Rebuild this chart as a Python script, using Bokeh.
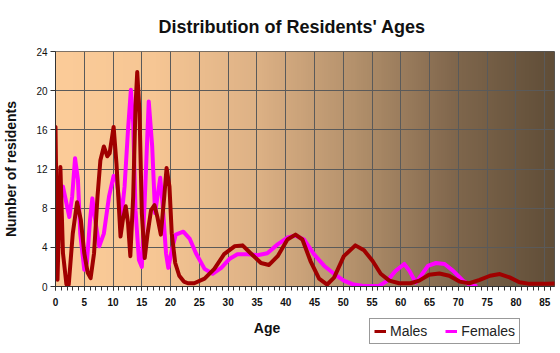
import numpy as np
from bokeh.plotting import figure
from bokeh.layouts import column
from bokeh.models import Legend, LegendItem, Label, FixedTicker, Range1d
from bokeh.embed import file_html
from bokeh.resources import INLINE

title_text = "Distribution of Residents' Ages"
x_label = "Age"
y_label = "Number of residents"
x_ticks = list(range(0, 90, 5))
y_ticks = [0, 4, 8, 12, 16, 20, 24]
series_names = ["Males", "Females"]

male_age = [0.0, 0.35, 0.85, 1.3, 1.9, 2.3, 3.0, 3.75, 4.4, 5.0, 5.6, 6.1, 6.7, 7.3, 7.8, 8.4,
            9.0, 9.4, 10.1, 10.6, 11.3, 11.7, 12.2, 12.6, 13.0, 13.5, 13.9, 14.2, 14.6, 15.0,
            15.5, 16.0, 16.6, 17.2, 17.7, 18.3, 18.9, 19.3, 19.8, 20.2, 20.8, 21.5, 22.3, 23.0,
            24.1, 25.9, 27.6, 29.3, 31.1, 32.5, 33.9, 35.7, 37.1, 38.6, 40.3, 41.7, 42.9, 44.3,
            45.8, 47.2, 48.4, 50.1, 52.1, 53.6, 55.1, 56.5, 58.0, 59.7, 61.7, 63.2, 64.9, 66.7,
            68.4, 70.2, 71.9, 73.7, 75.5, 77.2, 78.9, 80.6, 82.4, 85.3, 86.7]
male_count = [16.3, 0.7, 12.2, 3.4, 0.2, 0.2, 5.4, 8.6, 6.8, 3.4, 1.4, 0.85, 3.4, 9.2, 12.9, 14.3,
              13.3, 13.6, 16.3, 12.5, 5.1, 6.8, 8.2, 6.5, 3.1, 9.2, 18.4, 21.9, 17.7, 7.5,
              2.9, 5.4, 7.8, 8.3, 7.1, 5.3, 9.2, 12.1, 10.2, 5.4, 2.4, 1.1, 0.5, 0.33,
              0.33, 0.8, 1.8, 3.3, 4.1, 4.2, 3.4, 2.4, 2.2, 3.1, 4.8, 5.3, 4.8, 2.6,
              0.8, 0.2, 0.9, 3.1, 4.2, 3.7, 2.6, 1.3, 0.6, 0.33, 0.33, 0.6, 1.2, 1.33,
              1.1, 0.5, 0.33, 0.67, 1.1, 1.27, 0.93, 0.43, 0.27, 0.27, 0.3]

female_age = [0.3, 0.8, 1.3, 1.9, 2.4, 2.9, 3.4, 3.9, 4.3, 5.0, 5.45, 6.0, 6.4, 6.9, 7.6, 8.4,
              9.3, 10.1, 10.6, 11.5, 12.0, 12.6, 13.1, 13.5, 13.9, 14.5, 15.0, 15.6, 16.2, 16.8,
              17.3, 17.8, 18.2, 18.6, 19.2, 19.6, 20.2, 20.9, 22.2, 23.3, 24.4, 25.9, 27.3, 28.8,
              30.2, 31.6, 33.4, 35.1, 36.8, 38.6, 40.3, 41.7, 43.2, 44.9, 46.7, 48.4, 50.1, 51.8,
              53.5, 56.2, 57.7, 59.1, 60.6, 61.5, 62.6, 63.5, 64.7, 66.1, 67.6, 69.1, 70.8, 71.9,
              73.0]
female_count = [10.0, 10.3, 10.2, 8.5, 7.1, 9.2, 13.1, 10.9, 5.4, 1.7, 2.4, 6.8, 9.0, 6.8, 4.1, 5.4,
                9.2, 11.3, 10.8, 7.3, 10.2, 16.0, 20.1, 16.7, 7.8, 2.7, 2.0, 10.2, 18.9, 14.3,
                7.5, 9.5, 11.1, 8.5, 3.4, 1.9, 3.7, 5.3, 5.6, 4.9, 3.4, 1.8, 1.3, 1.9,
                2.8, 3.3, 3.3, 3.2, 3.4, 4.3, 5.0, 5.2, 4.8, 3.3, 2.1, 1.3, 0.6, 0.2,
                0.05, 0.05, 0.6, 1.6, 2.3, 1.6, 0.4, 1.1, 2.1, 2.4, 2.3, 1.6, 0.6, 0.2,
                0.05]

FONT = "Liberation Sans"
MALE_COLOR = "#a00000"
FEMALE_COLOR = "#ff00ff"
X_MAX = 86.7
Y_MAX = 24

# ---------------- main chart ----------------
p = figure(width=560, height=310, output_backend="svg", toolbar_location=None,
           x_range=Range1d(0, X_MAX), y_range=Range1d(0, Y_MAX),
           min_border_left=54, min_border_right=6, min_border_top=50, min_border_bottom=24)
p.background_fill_color = "white"
p.border_fill_color = "white"
p.outline_line_color = "#555555"

p.title.text = title_text
p.title.align = "left"
p.title.offset = 103
p.title.standoff = 29
p.title.text_font = FONT
p.title.text_font_size = "18px"
p.title.text_font_style = "bold"
p.title.text_color = "#111111"

# gradient background (style)
stops_pos = [0.0, 0.2, 0.4, 0.6, 0.8, 1.0]
stops_rgb = [(252, 204, 153), (246, 198, 148), (222, 178, 134), (180, 145, 108), (128, 103, 77), (96, 78, 56)]
N = 256
t = np.linspace(0, 1, N)
img = np.empty((1, N), dtype=np.uint32)
view = img.view(dtype=np.uint8).reshape((1, N, 4))
for c in range(3):
    view[0, :, c] = np.interp(t, stops_pos, [s[c] for s in stops_rgb]).astype(np.uint8)
view[0, :, 3] = 255
p.image_rgba(image=[img], x=0, y=0, dw=X_MAX, dh=Y_MAX, level="image")

p.xgrid.ticker = FixedTicker(ticks=x_ticks)
p.ygrid.ticker = FixedTicker(ticks=y_ticks)
p.grid.grid_line_color = "#5a5a5a"
p.grid.grid_line_width = 1

p.xaxis.ticker = FixedTicker(ticks=x_ticks, minor_ticks=list(range(0, 87)))
p.yaxis.ticker = FixedTicker(ticks=y_ticks)
for ax in (p.xaxis, p.yaxis):
    ax.axis_line_color = "#333333"
    ax.major_tick_line_color = "#333333"
    ax.minor_tick_line_color = "#333333"
    ax.major_label_text_font = FONT
    ax.major_label_text_color = "#111111"
    ax.major_label_text_font_size = "10px"
    ax.major_tick_in = 0
    ax.minor_tick_in = 0
p.xaxis.major_tick_out = 4
p.xaxis.minor_tick_out = 4
p.xaxis.major_label_standoff = 7
p.xaxis.major_label_text_font_style = "bold"
p.yaxis.major_tick_out = 5
p.yaxis.minor_tick_out = 0
p.yaxis.major_label_standoff = 3
p.yaxis.axis_label = y_label
p.yaxis.axis_label_text_font = FONT
p.yaxis.axis_label_text_font_size = "14px"
p.yaxis.axis_label_text_font_style = "bold"
p.yaxis.axis_label_text_color = "#111111"
p.yaxis.axis_label_standoff = 14

p.line(female_age, female_count, line_color=FEMALE_COLOR, line_width=4, line_join="round", line_cap="round")
p.line(male_age, male_count, line_color=MALE_COLOR, line_width=4, line_join="round", line_cap="round")

# ---------------- bottom strip: x label + legend ----------------
# this strip's frame is aligned with the chart frame (canvas x 54..554), 1 unit = 1 px
q = figure(width=560, height=43, output_backend="svg", toolbar_location=None,
           x_range=Range1d(0, 500), y_range=Range1d(0, 43),
           x_axis_type=None, y_axis_type=None,
           min_border_left=54, min_border_right=6, min_border_top=0, min_border_bottom=0)
q.background_fill_color = "white"
q.border_fill_color = "white"
q.outline_line_color = None
q.grid.visible = False

# legend proxies (no visible data)
lm = q.line([float("nan")], [float("nan")], line_color=MALE_COLOR, line_width=3)
lf = q.line([float("nan")], [float("nan")], line_color=FEMALE_COLOR, line_width=3)

q.add_layout(Label(x=212, y=26, text=x_label, text_align="center", text_baseline="middle",
                   text_font=FONT, text_font_size="14px", text_font_style="bold", text_color="#111111"))

legend = Legend(items=[LegendItem(label=series_names[0], renderers=[lm]),
                       LegendItem(label=series_names[1], renderers=[lf])],
                orientation="horizontal", location=(314, 9),
                padding=4, margin=0, spacing=18, glyph_width=12, glyph_height=14, label_standoff=4,
                label_text_font=FONT, label_text_font_size="14px", label_text_color="#222222",
                border_line_color="#333333", background_fill_color="white", background_fill_alpha=1)
q.add_layout(legend, "center")

layout = column(p, q, spacing=0)
open("out.html", "w").write(file_html(layout, INLINE))
